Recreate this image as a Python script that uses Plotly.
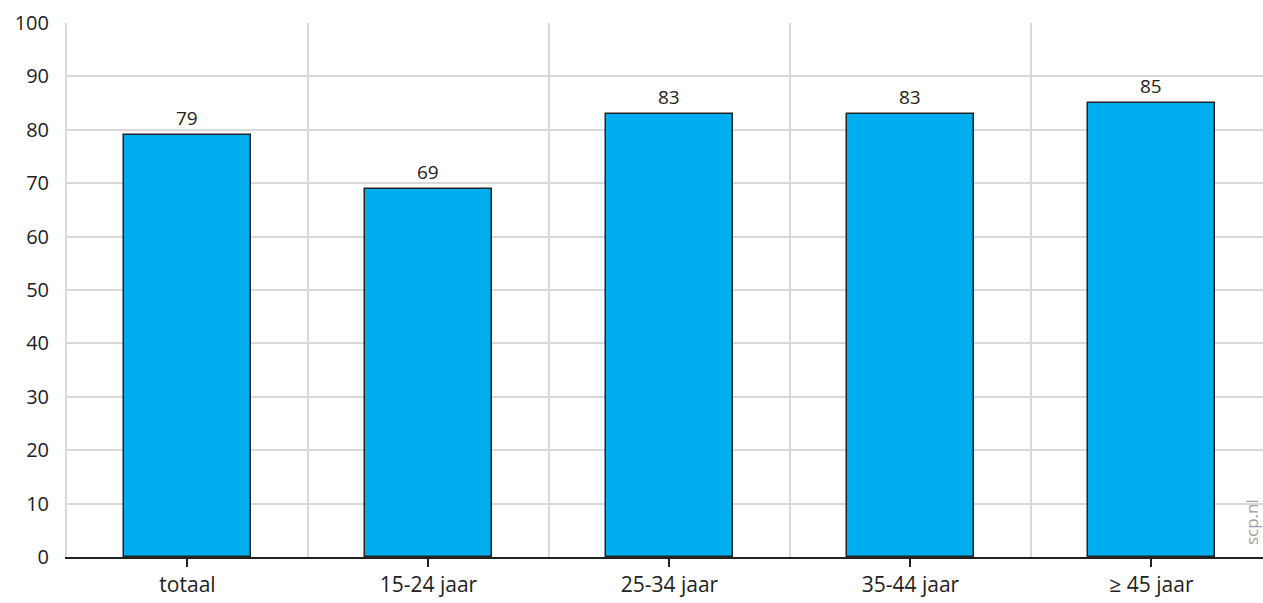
import plotly.graph_objects as go

categories = ["totaal", "15-24 jaar", "25-34 jaar", "35-44 jaar", "≥ 45 jaar"]
values = [79, 69, 83, 83, 85]
y_ticks = [0, 10, 20, 30, 40, 50, 60, 70, 80, 90, 100]

positions = list(range(len(categories)))
boundaries = [p - 0.5 for p in positions] + [positions[-1] + 0.5]

fig = go.Figure()
fig.add_trace(go.Bar(
    x=positions, y=values, width=0.527,
    marker=dict(color="#00AEEF", line=dict(color="#222222", width=1.5)),
    text=[str(v) for v in values], textposition="outside",
    textfont=dict(size=19, color="#222222"),
    cliponaxis=False,
))

fig.update_layout(
    width=1263, height=603,
    margin=dict(l=67, r=0, t=23, b=46),
    paper_bgcolor="white", plot_bgcolor="white",
    font=dict(family="Open Sans, Lato, sans-serif", size=20, color="#222222"),
    showlegend=False,
    bargap=0,
    xaxis=dict(
        range=[-0.5, 4.463],
        tickvals=positions, ticktext=categories,
        showgrid=False, zeroline=False,
        showline=True, linecolor="#222222", linewidth=2,
        ticks="outside", ticklen=8, tickwidth=2, tickcolor="#222222",
        minor=dict(tickvals=boundaries, showgrid=True, gridcolor="#d9d9d9", gridwidth=2, ticks=""),
        tickfont=dict(size=21),
    ),
    yaxis=dict(
        range=[0, 100], tickvals=y_ticks,
        showgrid=True, gridcolor="#d9d9d9", gridwidth=2,
        zeroline=False, showline=True, linecolor="#d9d9d9", linewidth=2,
        ticks="", ticklabelstandoff=12,
        tickfont=dict(size=20),
    ),
)

fig.add_annotation(
    text="scp.nl", xref="paper", yref="paper", x=0.991, y=0.019,
    xanchor="center", yanchor="bottom", textangle=-90, showarrow=False,
    font=dict(size=17, color="#a0a0a0"),
)

fig.write_html("out.html", config={"displayModeBar": False},
               post_script="document.body.style.margin='0';")
